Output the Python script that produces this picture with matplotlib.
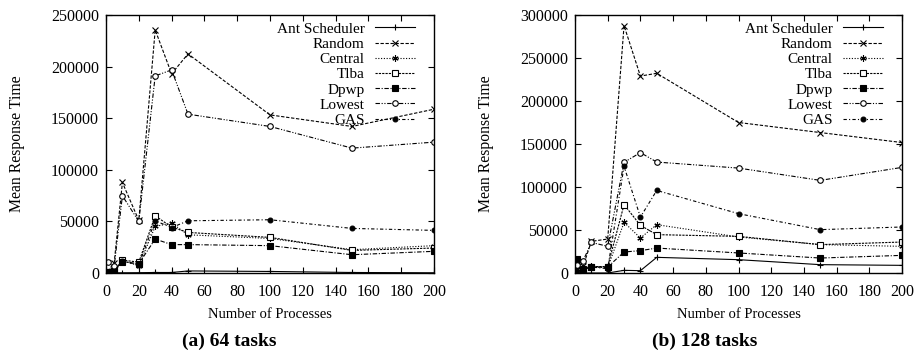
import matplotlib
matplotlib.use("Agg")
import matplotlib.pyplot as plt

plt.rcParams['font.family'] = ['Liberation Serif', 'DejaVu Serif']

# number of processes
procs = [1, 5, 10, 20, 30, 40, 50, 100, 150, 200]
names = ["Ant Scheduler", "Random", "Central", "Tlba", "Dpwp", "Lowest", "GAS"]

# (a) 64 tasks
ant_64 = [200, 200, 200, 300, 500, 500, 2000, 1500, 500, 200]
random_64 = [1500, 10000, 87700, 51000, 235500, 193000, 212300, 153200, 142000, 158700]
central_64 = [1000, 2500, 12000, 7000, 45100, 48400, 37000, 33500, 22600, 26500]
tlba_64 = [1200, 1500, 12500, 10500, 55400, 44500, 39300, 34500, 21900, 24200]
dpwp_64 = [1000, 1500, 11000, 9000, 32900, 27500, 27500, 26500, 17700, 21000]
lowest_64 = [10300, 6500, 74800, 50000, 191000, 196800, 153900, 142000, 121000, 126800]
gas_64 = [1000, 2000, 11500, 8000, 50600, 44000, 50600, 51600, 43200, 41300]

# (b) 128 tasks
ant_128 = [0, 0, 0, 0, 3100, 2700, 18200, 15500, 9700, 8900]
random_128 = [5000, 8000, 36800, 39500, 287600, 229000, 232200, 175000, 163300, 151700]
central_128 = [3000, 5000, 8000, 6000, 58900, 40700, 56200, 41900, 33000, 31000]
tlba_128 = [2000, 4000, 7500, 7500, 79500, 55400, 44600, 42600, 33000, 36000]
dpwp_128 = [16300, 4600, 6600, 7000, 24400, 26000, 29000, 23300, 17400, 20500]
lowest_128 = [9700, 14300, 35600, 31000, 128700, 140000, 129000, 122000, 107700, 122800]
gas_128 = [2000, 4000, 7000, 5000, 124000, 65000, 96000, 69000, 50400, 53500]

# gnuplot-ish line types
styles = [
    dict(ls='-', marker='+', ms=5, mfc='black'),
    dict(ls=(0, (3, 1.5)), marker='x', ms=4, mfc='black'),
    dict(ls=(0, (1, 1.5)), marker=(6, 2, 0), ms=4.5, mfc='black'),
    dict(ls=(0, (2, 1)), marker='s', ms=4, mfc='white'),
    dict(ls=(0, (4, 1.5, 1, 1.5)), marker='s', ms=5, mfc='black'),
    dict(ls=(0, (4, 1.5, 1, 1.5, 1, 1.5)), marker='o', ms=4, mfc='white'),
    dict(ls=(0, (3, 2, 1, 2)), marker='o', ms=3.5, mfc='black'),
]

fig = plt.figure(figsize=(9.17, 3.53), dpi=100)
ax1 = fig.add_axes([106/917, 1-273/353, 328/917, 258/353])
ax2 = fig.add_axes([575/917, 1-273/353, 327/917, 258/353])

panels = [
    (ax1, [ant_64, random_64, central_64, tlba_64, dpwp_64, lowest_64, gas_64], 250000, "(a) 64 tasks", 229),
    (ax2, [ant_128, random_128, central_128, tlba_128, dpwp_128, lowest_128, gas_128], 300000, "(b) 128 tasks", 705),
]

for ax, series, ymax, caption, cx in panels:
    for name, ys, st in zip(names, series, styles):
        ax.plot(procs, ys, color='black', lw=0.8, mec='black', mew=0.8,
                label=name, **st)
    ax.set_xlim(0, 200)
    ax.set_ylim(0, ymax)
    ax.set_xticks(range(0, 201, 20))
    ax.set_yticks(range(0, ymax + 1, 50000))
    ax.tick_params(direction='in', length=4, width=0.8, labelsize=11.5,
                   top=True, right=True)
    ax.tick_params(axis='x', pad=8)
    ax.tick_params(axis='y', pad=5)
    for sp in ax.spines.values():
        sp.set_linewidth(1.0)
    ax.set_xlabel("Number of Processes", fontsize=10.5, labelpad=5.5)
    ax.set_ylabel("Mean Response Time", fontsize=11.3, labelpad=19)
    ax.legend(loc='upper right', bbox_to_anchor=(1 - 19/328, 1 - 7/258),
              frameon=False, markerfirst=False, fontsize=11,
              handlelength=2.6, handletextpad=0.7, labelspacing=0.1,
              borderpad=0, borderaxespad=0)
    fig.text(cx/917, 1-341/353, caption, ha='center', va='center',
             fontsize=14, fontweight='bold')

fig.savefig("out.png", dpi=100)
